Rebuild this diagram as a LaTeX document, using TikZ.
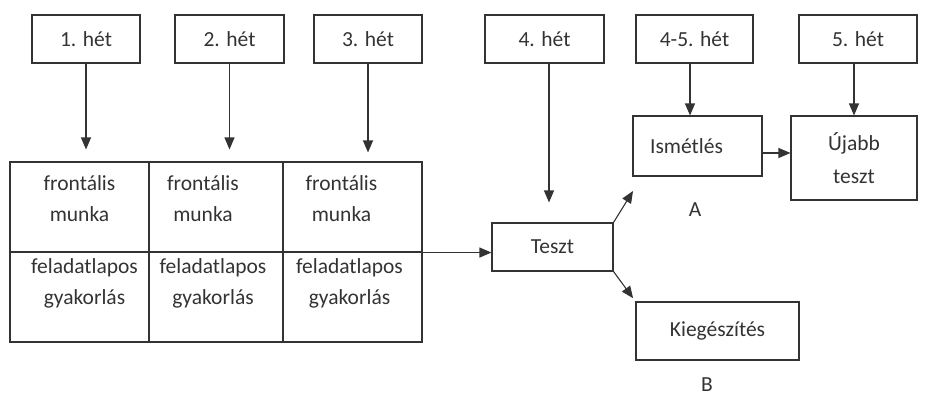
\documentclass[tikz,border=0pt]{standalone}
\usepackage{fontspec}
\setmainfont{Carlito}
\usetikzlibrary{positioning}
\usetikzlibrary{arrows.meta}
\tikzset{every picture/.style={line width=1.1pt,x=1pt,y=-1pt},
  weekbox/.style={draw,minimum width=110pt,minimum height=48pt,inner sep=0pt},
  cell/.style={draw,minimum width=139pt,minimum height=90pt,inner sep=0pt},
  celltext/.style={anchor=north,align=center,inner sep=0pt}}

\begin{document}
\begin{tikzpicture}[font=\fontsize{21.5}{31}\selectfont,color=black!80,>={Triangle[length=12pt,width=10pt]}]
\useasboundingbox (0,0) rectangle (929,396);
\node (w1) [weekbox, minimum width=108pt] at (86,39) {1. hét};
\node (w2) [right of=w1, node distance=143.5pt, weekbox, minimum width=109pt] {2. hét};
\node (w3) [right of=w2, node distance=138.5pt, weekbox, minimum width=108pt] {3. hét};
\node (w4) [right of=w3, node distance=176.5pt, weekbox, minimum width=119pt] {4. hét};
\node (w45) [right of=w4, node distance=150pt, weekbox, minimum width=117pt] {4-5. hét};
\node (w5) [right of=w45, node distance=163.5pt, weekbox, minimum width=118pt] {5. hét};

% table
\node (f1a) [cell] at (79.5,207) {};
\node (f2a) [right of=f1a, node distance=136.5pt, cell, minimum width=134pt] {};
\node (f3a) [right of=f2a, node distance=136.5pt, cell] {};
\node (f1b) [below of=f1a, node distance=90pt, cell] {};
\node (f2b) [below of=f2a, node distance=90pt, cell, minimum width=134pt] {};
\node (f3b) [below of=f3a, node distance=90pt, cell] {};
\node (t1a) [celltext] at ([yshift=-14pt]f1a.north) {frontális\\munka};
\node (t2a) [celltext] at ([yshift=-14pt,xshift=-13pt]f2a.north) {frontális\\munka};
\node (t3a) [celltext] at ([yshift=-14pt,xshift=-11pt]f3a.north) {frontális\\munka};
\node (t1b) [celltext] at ([yshift=-7pt,xshift=5pt]f1b.north) {feladatlapos\\gyakorlás};
\node (t2b) [celltext] at ([yshift=-7pt,xshift=-3pt]f2b.north) {feladatlapos\\gyakorlás};
\node (t3b) [celltext] at ([yshift=-7pt,xshift=-3pt]f3b.north) {feladatlapos\\gyakorlás};

\node (teszt) [draw, minimum width=121pt, minimum height=48pt] at (552.5,247) {Teszt};
\node (ism) [draw, minimum width=129pt, minimum height=60pt] at (697.5,146) {\hspace*{-22pt}Ismétlés};
\node (ujabb) [draw, minimum width=126pt, minimum height=84pt, align=center, font=\fontsize{21.5}{33}\selectfont] at (854,158) {Újabb\\teszt};
\node (kieg) [draw, minimum width=163pt, minimum height=58pt] at (717.5,331) {Kiegészítés};
\node (lblA) at (695,210) {A};
\node (lblB) [inner sep=1pt] at (707,385) {B};
\coordinate (aup) at (633,191);

\draw[->, shorten >=12pt] (w1) -- (w1.south |- f1a.north);
\draw[->, shorten >=12pt] (w2) -- (w2.south |- f2a.north);
\draw[->, shorten >=9pt] (w3) -- (w3.south |- f3a.north);
\draw[->, shorten >=20pt] ([xshift=4.5pt]w4.south) -- ([xshift=4.5pt]w4.south |- teszt.north);
\draw[->] (f3a.south east) -- (f3a.south east -| teszt.west);
\draw[->] (teszt.north east) -- (aup);
\draw[->, shorten >=4pt] (teszt.south east) -- (kieg.north west);
\draw[->] ([xshift=-4.5pt]w45.south) -- ([xshift=-4.5pt]w45.south |- ism.north);
\draw[->] (w5.south -| ujabb.north) -- (ujabb.north);
\draw[->] ([yshift=-7pt]ism.east) -- ([yshift=-7pt]ism.east -| ujabb.west);
\end{tikzpicture}
\end{document}
